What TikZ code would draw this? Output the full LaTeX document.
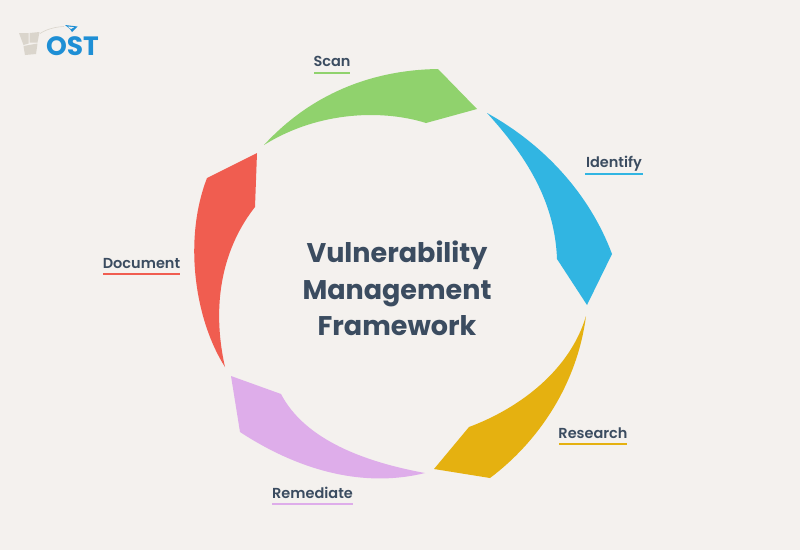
\documentclass[tikz,border=0pt]{standalone}
\usepackage{fontspec}
\setmainfont{Poppins}[BoldFont={Poppins Bold}]
\newfontfamily\labfont{Poppins SemiBold}
\definecolor{bgc}{HTML}{F4F1EE}
\definecolor{ink}{HTML}{3B4C60}
\definecolor{cgreen}{HTML}{90D26D}
\definecolor{cblue}{HTML}{31B5E2}
\definecolor{cyellow}{HTML}{E5B110}
\definecolor{cpurple}{HTML}{DEADEA}
\definecolor{cred}{HTML}{F05D50}
\definecolor{logob}{HTML}{1E8FD5}
\definecolor{logog}{HTML}{DAD5CC}
\tikzset{
 lab/.style={inner sep=0pt,text=ink,font=\fontsize{14.5}{16}\selectfont\labfont},
 ul/.style={line width=2pt}
}
\begin{document}
\begin{tikzpicture}[x=1pt,y=-1pt]
\path[use as bounding box,fill=bgc] (0,0) rectangle (800,550);
% segments
\fill[cgreen] (264,145) .. controls (310,95) and (370,70) .. (438,69) -- (477,109) -- (426,123) .. controls (385,110) and (320,110) .. (264,145) -- cycle;
\fill[cblue] (487,113) .. controls (545,145) and (590,195) .. (612,254) -- (587,305) -- (557,259) .. controls (555,205) and (530,160) .. (487,113) -- cycle;
\fill[cyellow] (586,316) .. controls (577,385) and (538,442) .. (490,478) -- (434,469) -- (469,427) .. controls (520,408) and (570,370) .. (586,316) -- cycle;
\fill[cpurple] (231,376) -- (281,394) .. controls (305,440) and (365,462) .. (425,473) .. controls (360,489) and (295,468) .. (240,432) -- cycle;
\fill[cred] (257,153) -- (255,207) .. controls (225,245) and (210,300) .. (225,367) .. controls (195,320) and (183,240) .. (207,178) -- cycle;
% labels
\node[lab] (scan) at (332,61) {Scan};
\node[lab] (identify) at (614,164) {Identify};
\node[lab] (research) at (593,433) {Research};
\node[lab] (remediate) at (312.5,492.5) {Remediate};
\node[lab] (document) at (141.5,263) {Document};
\draw[ul,cgreen] (314,72.5) -- (350,72.5);
\draw[ul,cblue] (585,174) -- (643,174);
\draw[ul,cyellow] (559,444) -- (627,444);
\draw[ul,cpurple] (272,503.5) -- (353,503.5);
\draw[ul,cred] (103,274) -- (180,274);
% title
\node[inner sep=0pt,text=ink,align=center,font=\fontsize{27}{36.5}\selectfont\bfseries] (title) at (397,288.5) {Vulnerability\\Management\\Framework};
% logo
\fill[logog] (19,33) -- (28.5,33) -- (28.5,43.5) -- (23.5,45) -- cycle;
\fill[logog] (29.5,33) -- (39.5,32) -- (37.5,42.5) -- (29.5,42.5) -- cycle;
\fill[logog] (23.5,46) -- (37.5,43.5) -- (36,54) -- (25,55) -- cycle;
\draw[logog,line width=.6pt] (40,33.5) .. controls (47,29) and (55,27) .. (64,26.5);
\fill[logob] (65,25) -- (77.5,26.5) -- (72,32) -- (70,29) -- cycle;
\fill[bgc] (67.5,26.5) -- (74,27.2) -- (71,29) -- cycle;
\node[inner sep=0pt,text=logob,font=\fontsize{26.5}{26}\selectfont\bfseries] (ost) at (72.5,46.5) {OST};
\end{tikzpicture}
\end{document}
